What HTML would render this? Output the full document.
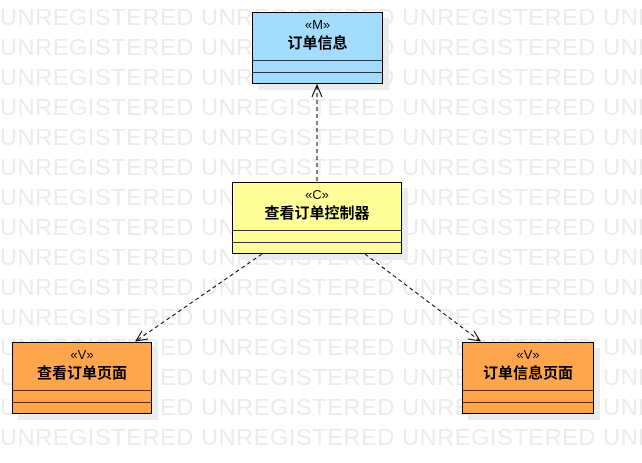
<!DOCTYPE html>
<html><head><meta charset="utf-8"><style>
html,body{margin:0;width:642px;height:463px;overflow:hidden}
body{background:#fff;position:relative;font-family:"Liberation Sans","Noto Sans CJK SC",sans-serif}
#wmc{position:absolute;left:0;top:0;width:642px;height:463px;overflow:hidden}
.wm{position:absolute;left:0;font-size:23.5px;color:#ebebeb;white-space:nowrap;letter-spacing:0.6px;line-height:30px}
.box{position:absolute;border:1px solid #000;box-shadow:6px 6px 0 #ececec;box-sizing:border-box}
.st{position:absolute;left:0;right:0;text-align:center;font-size:13px;top:4px}
.nm{position:absolute;left:0;right:0;text-align:center;font-size:15px;font-weight:bold;top:19px}
.sep{position:absolute;left:0;right:0;height:1px}
svg{position:absolute;left:0;top:0;z-index:5}
</style></head><body>
<div id="wmc">
<div class="wm" style="top:2px">UNREGISTERED UNREGISTERED UNREGISTERED UNREGISTERED</div>
<div class="wm" style="top:32px">UNREGISTERED UNREGISTERED UNREGISTERED UNREGISTERED</div>
<div class="wm" style="top:62px">UNREGISTERED UNREGISTERED UNREGISTERED UNREGISTERED</div>
<div class="wm" style="top:92px">UNREGISTERED UNREGISTERED UNREGISTERED UNREGISTERED</div>
<div class="wm" style="top:122px">UNREGISTERED UNREGISTERED UNREGISTERED UNREGISTERED</div>
<div class="wm" style="top:152px">UNREGISTERED UNREGISTERED UNREGISTERED UNREGISTERED</div>
<div class="wm" style="top:182px">UNREGISTERED UNREGISTERED UNREGISTERED UNREGISTERED</div>
<div class="wm" style="top:212px">UNREGISTERED UNREGISTERED UNREGISTERED UNREGISTERED</div>
<div class="wm" style="top:242px">UNREGISTERED UNREGISTERED UNREGISTERED UNREGISTERED</div>
<div class="wm" style="top:272px">UNREGISTERED UNREGISTERED UNREGISTERED UNREGISTERED</div>
<div class="wm" style="top:302px">UNREGISTERED UNREGISTERED UNREGISTERED UNREGISTERED</div>
<div class="wm" style="top:332px">UNREGISTERED UNREGISTERED UNREGISTERED UNREGISTERED</div>
<div class="wm" style="top:362px">UNREGISTERED UNREGISTERED UNREGISTERED UNREGISTERED</div>
<div class="wm" style="top:392px">UNREGISTERED UNREGISTERED UNREGISTERED UNREGISTERED</div>
<div class="wm" style="top:422px">UNREGISTERED UNREGISTERED UNREGISTERED UNREGISTERED</div>
</div>

<div class="box" style="left:252px;top:12px;width:131px;height:72px;background:#a3dcff">
<div class="st">«M»</div><div class="nm">订单信息</div>
<div class="sep" style="top:47px;background:#333"></div><div class="sep" style="top:59px;background:#333"></div></div>

<div class="box" style="left:232px;top:182px;width:170px;height:72px;background:#ffff99">
<div class="st">«C»</div><div class="nm">查看订单控制器</div>
<div class="sep" style="top:47px;background:#333"></div><div class="sep" style="top:59px;background:#333"></div></div>

<div class="box" style="left:12px;top:342px;width:140px;height:72px;background:#ffa64d">
<div class="st">«V»</div><div class="nm">查看订单页面</div>
<div class="sep" style="top:47px;background:#5a2a00"></div><div class="sep" style="top:59px;background:#5a2a00"></div></div>

<div class="box" style="left:462px;top:342px;width:132px;height:72px;background:#ffa64d">
<div class="st">«V»</div><div class="nm">订单信息页面</div>
<div class="sep" style="top:47px;background:#5a2a00"></div><div class="sep" style="top:59px;background:#5a2a00"></div></div>

<svg width="642" height="463">
<g stroke="#000" stroke-width="1" fill="none">
<line x1="317" y1="181" x2="317" y2="85" stroke-dasharray="4,3"/>
<polyline points="312,97 317,85 322,97"/>
<line x1="262" y1="254" x2="136" y2="341" stroke-dasharray="4,3"/>
<polyline points="142,331 136,341 148,339"/>
<line x1="365" y1="254" x2="480" y2="341" stroke-dasharray="4,3"/>
<polyline points="468,339 480,341 474,331"/>
</g></svg>
</body></html>
